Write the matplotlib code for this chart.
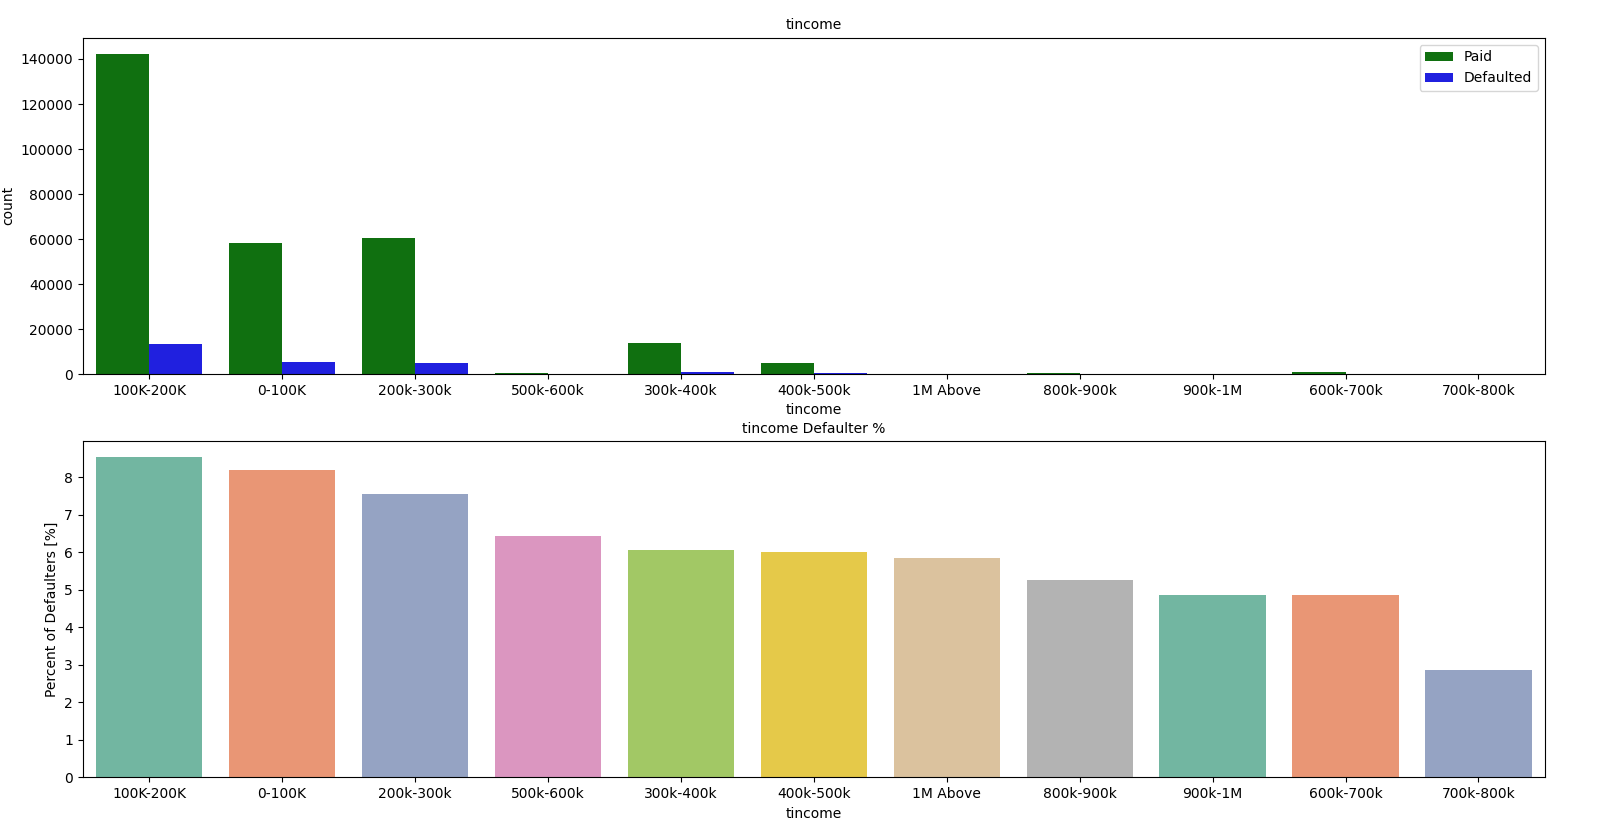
import numpy as np
import pandas as pd
import matplotlib
matplotlib.use('Agg')
import matplotlib.pyplot as plt
import seaborn as sns

# income bins in the order they appear on the charts
income_bins = ['100K-200K', '0-100K', '200k-300k', '500k-600k', '300k-400k', '400k-500k',
               '1M Above', '800k-900k', '900k-1M', '600k-700k', '700k-800k']

# counts
paid_counts = [142300, 58200, 60500, 500, 13600, 4900, 60, 350, 40, 700, 50]
default_counts = [13300, 5200, 4950, 30, 880, 310, 4, 19, 2, 36, 1]

# defaulter percentage
default_pct = [8.53, 8.20, 7.55, 6.42, 6.07, 6.02, 5.86, 5.26, 4.87, 4.85, 2.87]

counts = pd.DataFrame({
    'tincome': income_bins * 2,
    'count': paid_counts + default_counts,
    'status': ['Paid'] * len(income_bins) + ['Defaulted'] * len(income_bins),
})
pct = pd.DataFrame({'tincome': income_bins, 'pct': default_pct})

fig, (ax1, ax2) = plt.subplots(2, 1, figsize=(16, 8.31), dpi=100)
fig.subplots_adjust(left=0.0517, right=0.9656, top=0.9545, bottom=0.0644, hspace=0.2)

# top: paid vs defaulted counts
sns.barplot(data=counts, x='tincome', y='count', hue='status', order=income_bins,
            palette=['green', 'blue'], ax=ax1)
ax1.set_title('tincome', fontsize=10)
ax1.set_ylabel('count')
ax1.set_xlabel('tincome')
ax1.legend(loc='upper right')

# bottom: defaulter percentage per bin
sns.barplot(data=pct, x='tincome', y='pct', hue='tincome', order=income_bins,
            palette='Set2', legend=False, ax=ax2)
ax2.set_title('tincome Defaulter %', fontsize=10)
ax2.set_ylabel('Percent of Defaulters [%]')
ax2.set_xlabel('tincome')

fig.savefig('out.png')
